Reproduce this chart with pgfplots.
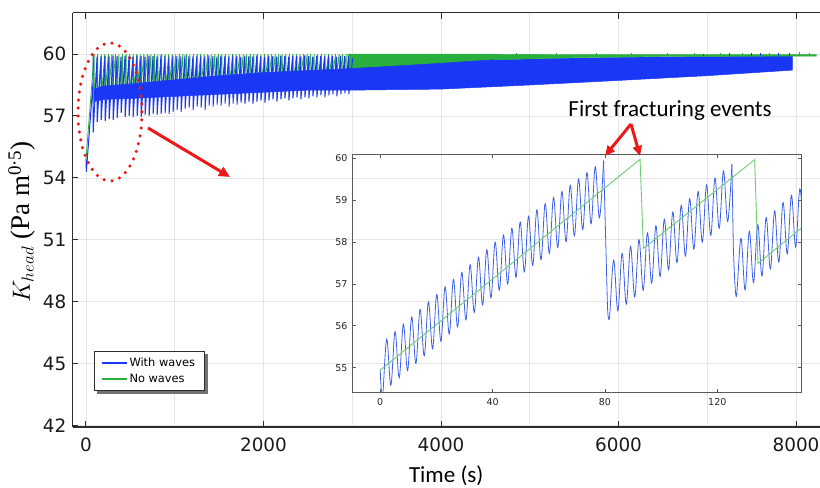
\documentclass[border=0pt]{standalone}
\usepackage{pgfplots}
\pgfplotsset{compat=1.18}
\usepackage{fontspec}
\setmainfont{Carlito}
\newfontfamily\dejavu{DejaVu Sans}
\newfontfamily\lserif{Liberation Serif}
\usetikzlibrary{arrows.meta}
\definecolor{cblue}{RGB}{25,55,245}
\definecolor{cgreen}{RGB}{40,175,60}
\definecolor{iblue}{RGB}{60,95,235}
\definecolor{igreen}{RGB}{110,205,110}
\definecolor{cred}{RGB}{235,25,25}
\definecolor{gridc}{RGB}{230,230,230}
\definecolor{axc}{RGB}{45,45,45}
\definecolor{iaxc}{RGB}{90,90,90}
\begin{document}
\begin{tikzpicture}
\useasboundingbox (0bp,0bp) rectangle (820bp,488bp);
\begin{axis}[
 at={(72.5bp,61bp)}, anchor=south west,
 scale only axis, width=747.5bp, height=414.3bp,
 xmin=-152, xmax=8270, ymin=41.94, ymax=62,
 axis x line=box, axis y line*=left,
 axis line style={axc, line width=1.2bp},
 tick align=inside, major tick length=6bp, minor tick length=0pt,
 tick style={axc, line width=1bp},
 xtick={0,2000,4000,6000,8000}, minor xtick={1000,3000,5000,7000},
 ytick={42,45,48,51,54,57,60},
 xmajorgrids=true, xminorgrids=true, ymajorgrids=true,
 grid style={gridc, line width=0.8bp},
 minor grid style={gridc, line width=0.8bp},
 scaled ticks=false,
 /pgf/number format/1000 sep={},
 /pgf/number format/assume math mode=true,
 ticklabel style={font=\dejavu\fontsize{18.4bp}{22bp}\selectfont, black!90, inner sep=0pt},
 xticklabel style={yshift=-11bp},
 yticklabel style={xshift=-6bp},
 xlabel={Time (s)},
 xlabel style={font=\fontsize{23bp}{27bp}\selectfont, at={(axis description cs:0.5,0)}, anchor=base, yshift=-55bp},
 unbounded coords=jump,
 legend style={name=leg, at={(0.0288,0.183)}, anchor=north west, draw=axc, fill=white,
   font=\dejavu\fontsize{11.4bp}{13bp}\selectfont, inner xsep=7bp, inner ysep=4.5bp, row sep=2bp,
   legend cell align=left},
 legend image code/.code={\draw[#1,line width=1.3bp] (0bp,0bp) -- (25bp,0bp);},
]
% ---- No waves (green) sawtooth, early part
\addplot[cgreen, line width=0.8bp, forget plot] coordinates {
(0,54.9)(92,60)(93,57.85)(132,60)(133,57.5)(172,60)(173,57.87)(212,60)(213,57.89)(252,60)(253,57.9)(292,60)(293,57.91)(332,60)(333,57.93)(372,60)(373,57.94)(412,60)(413,57.95)(452,60)(453,57.96)(492,60)(493,57.98)(532,60)(533,57.99)(572,60)(573,58)(612,60)(613,58.01)(652,60)(653,58.03)(692,60)(693,58.04)(732,60)(733,58.05)(772,60)(773,58.06)(812,60)(813,58.08)(852,60)(853,58.09)(892,60)(893,58.1)(932,60)(933,58.11)(972,60)(973,58.13)(1012,60)(1013,58.14)(1052,60)(1053,58.15)(1092,60)(1093,58.16)(1132,60)(1133,58.18)(1172,60)(1173,58.19)(1212,60)(1213,58.2)(1252,60)(1253,58.21)(1292,60)(1293,58.23)(1332,60)(1333,58.24)(1372,60)(1373,58.25)(1412,60)(1413,58.26)(1452,60)(1453,58.28)(1492,60)(1493,58.29)(1532,60)(1533,58.3)(1572,60)(1573,58.31)(1612,60)(1613,58.33)(1652,60)(1653,58.34)(1692,60)(1693,58.35)(1732,60)(1733,58.36)(1772,60)(1773,58.38)(1812,60)(1813,58.39)(1852,60)(1853,58.4)(1892,60)(1893,58.41)(1932,60)(1933,58.43)(1972,60)(1973,58.44)(2012,60)(2013,58.45)(2052,60)(2053,58.46)(2092,60)(2093,58.48)(2132,60)(2133,58.49)(2172,60)(2173,58.5)(2212,60)(2213,58.51)(2252,60)(2253,58.53)(2292,60)(2293,58.54)(2332,60)(2333,58.55)(2372,60)(2373,58.56)(2412,60)(2413,58.58)(2452,60)(2453,58.59)(2492,60)(2493,58.6)(2532,60)(2533,58.61)(2572,60)(2573,58.63)(2612,60)(2613,58.64)(2652,60)(2653,58.65)(2692,60)(2693,58.66)(2732,60)(2733,58.68)(2772,60)(2773,58.69)(2812,60)(2813,58.7)(2852,60)(2853,58.71)(2892,60)(2893,58.73)(2932,60)(2933,58.74)(2972,60)};
% ---- green dense band 2950-4600
\addplot[cgreen, fill=cgreen, line width=0.5bp, forget plot] coordinates {
(2950,60)(3500,60)(4000,60)(4600,59.99)(4600,59.4)(3500,59.1)(2950,58.9)} -- cycle;
% ---- With waves (blue) sawtooth
\addplot[cblue, line width=1bp, forget plot] coordinates {
(0,54.9)(4,54.3)(79,58.6)(80,59.95)(81.5,56.2)
(125,59.88)(126.5,56.7)(170,59.9)(171.5,56.8)(215,59.92)(216.5,56.75)(260,59.88)(261.5,56.85)(305,59.93)(306.5,56.8)(350,59.9)(351.5,56.9)(395,59.87)(396.5,57.15)(440,59.92)(441.5,56.95)(485,59.9)(486.5,57.0)(530,59.88)(531.5,56.95)(575,59.93)(576.5,57.0)(620,59.9)(621.5,56.95)(665,59.87)(666.5,57.05)(710,59.92)(711.5,57.0)(755,59.9)(756.5,57.1)(800,59.88)(801.5,57.05)(845,59.93)(846.5,57.1)(890,59.9)(891.5,57.15)(935,59.87)(936.5,57.1)(980,59.92)(981.5,57.2)(1025,59.9)(1026.5,57.3)(1070,59.88)(1071.5,57.2)(1115,59.93)(1116.5,57.35)(1160,59.9)(1161.5,57.4)(1205,59.87)(1206.5,57.3)(1250,59.92)(1251.5,57.45)(1295,59.9)(1296.5,57.4)(1340,59.88)(1341.5,57.3)(1385,59.93)(1386.5,57.5)(1430,59.9)(1431.5,57.45)(1475,59.87)(1476.5,57.55)(1520,59.92)(1521.5,57.5)(1565,59.9)(1566.5,57.6)(1610,59.88)(1611.5,57.45)(1655,59.93)(1656.5,57.6)(1700,59.9)(1701.5,57.55)(1745,59.87)(1746.5,57.65)(1790,59.92)(1791.5,57.6)(1835,59.9)(1836.5,57.7)(1880,59.88)(1881.5,57.6)(1925,59.93)(1926.5,57.7)(1970,59.9)(1971.5,57.75)(2015,59.87)(2016.5,57.65)(2060,59.92)(2061.5,57.75)(2105,59.9)(2106.5,57.8)(2150,59.88)(2151.5,57.7)(2195,59.93)(2196.5,57.8)(2240,59.9)(2241.5,57.85)(2285,59.87)(2286.5,57.75)(2330,59.92)(2331.5,57.85)(2375,59.9)(2376.5,57.9)(2420,59.88)(2421.5,57.8)(2465,59.93)(2466.5,57.9)(2510,59.9)(2511.5,57.85)(2555,59.87)(2556.5,57.95)(2600,59.92)(2601.5,57.9)(2645,59.9)(2646.5,58.0)(2690,59.88)(2691.5,57.9)(2735,59.93)(2736.5,58.0)(2780,59.9)(2781.5,58.05)(2825,59.87)(2826.5,57.95)(2870,59.92)(2871.5,58.05)(2915,59.9)(2916.5,58.1)(2960,59.88)(2961.5,58.05)(3005,59.8)};
% ---- blue dense band
\addplot[cblue, fill=cblue, line width=0.5bp, forget plot] coordinates {
(95,58.3)(200,58.45)(500,58.55)(1000,58.75)(1500,58.95)(2000,59.1)(2500,59.2)(3000,59.3)(3500,59.42)(4000,59.55)(4600,59.72)(5500,59.8)(6500,59.86)(7960,59.9)
(7960,59.22)(7000,58.95)(6000,58.72)(5000,58.5)(4000,58.3)(3000,58.25)(2500,58.25)(2000,58.15)(1500,58.05)(1000,57.95)(500,57.85)(200,57.8)(95,57.7)} -- cycle;
% ---- green late band
\addplot[cgreen, fill=cgreen, line width=0.4bp, forget plot] coordinates {
(4600,59.99)(5500,59.97)(6500,59.97)(8230,59.97)(8230,59.9)(6500,59.88)(5500,59.82)(4600,59.72)} -- cycle;
% ---- small spikes
\addplot[cgreen, line width=0.7bp, forget plot] coordinates {
(4850,59.95)(4850,60.05)(4850,nan)(5300,59.95)(5300,60.04)(5300,nan)(5750,59.95)(5750,60.05)(5750,nan)(6150,59.95)(6150,60.04)(6150,nan)(6550,59.95)(6550,60.05)(6550,nan)(6850,59.95)(6850,60.06)(6850,nan)(7150,59.95)(7150,60.05)(7150,nan)(7400,59.95)(7400,60.07)(7400,nan)(7700,59.95)(7700,60.06)(7700,nan)(8040,59.95)(8040,60.08)(8040,nan)(8150,59.95)(8150,60.07)};
\addplot[cblue, line width=0.7bp, forget plot] coordinates {
(6950,59.9)(6950,60.02)(6950,nan)(7250,59.9)(7250,60.03)(7250,nan)(7500,59.9)(7500,60.03)(7500,nan)(7600,59.9)(7600,60.04)(7600,nan)(7800,59.9)(7800,60.04)(7800,nan)(7930,59.9)(7930,60.05)};
\addlegendimage{cblue}
\addlegendentry{With waves}
\addlegendimage{cgreen}
\addlegendentry{No waves}
\end{axis}
% legend shadow
\fill[black!55] ([xshift=3bp,yshift=-3.5bp]leg.south west) rectangle ([xshift=3.5bp,yshift=-0.4bp]leg.south east);
\fill[black!55] ([xshift=0.4bp,yshift=-3bp]leg.north east) rectangle ([xshift=3.5bp,yshift=-3.5bp]leg.south east);
% ---------------- inset
\begin{axis}[
 at={(352.7bp,95.7bp)}, anchor=south west,
 scale only axis, width=448.3bp, height=238bp,
 xmin=-9.8, xmax=149.8, ymin=54.41, ymax=60.1,
 axis line style={iaxc, line width=0.9bp},
 tick align=inside, major tick length=3.5bp,
 tick style={iaxc, line width=0.8bp},
 xtick={0,40,80,120}, ytick={55,56,57,58,59,60},
 /pgf/number format/assume math mode=true,
 ticklabel style={font=\dejavu\fontsize{9.5bp}{11bp}\selectfont, black!85, inner sep=0pt},
 xticklabel style={yshift=-5.5bp},
 yticklabel style={xshift=-5bp},
]
\addplot[iblue, line width=0.8bp, smooth, tension=0.6] coordinates {
(0,54.94)(0.8,54.3)(2.3,55.68)(3.79,54.58)(5.27,55.86)(6.76,54.76)(8.24,56.04)(9.73,54.93)(11.21,56.21)(12.70,55.10)(14.18,56.39)(15.67,55.28)(17.15,56.57)(18.64,55.45)(20.12,56.75)(21.61,55.63)(23.09,56.93)(24.58,55.80)(26.06,57.11)(27.55,55.97)(29.03,57.28)(30.52,56.14)(32.0,57.46)(33.49,56.32)(34.97,57.64)(36.46,56.50)(37.94,57.82)(39.43,56.67)(40.91,58.00)(42.40,56.85)(43.88,58.17)(45.37,57.00)(46.85,58.33)(48.34,57.16)(49.82,58.48)(51.31,57.29)(52.79,58.62)(54.28,57.44)(55.76,58.77)(57.25,57.58)(58.73,58.92)(60.22,57.73)(61.70,59.07)(63.19,57.87)(64.67,59.21)(66.16,58.01)(67.64,59.36)(69.13,58.15)(70.61,59.51)(72.10,58.30)(73.58,59.66)(75.07,58.44)(76.55,59.80)(78.04,58.58)(79.52,59.95)};
\addplot[iblue, line width=0.8bp] coordinates {(79.52,59.95)(80.9,56.45)};
\addplot[iblue, line width=0.8bp, smooth, tension=0.6] coordinates {
(80.9,56.45)(81.6,56.19)(83.10,57.57)(84.60,56.36)(86.11,57.73)(87.61,56.52)(89.11,57.90)(90.61,56.69)(92.12,58.06)(93.62,56.85)(95.13,58.22)(96.63,57.02)(98.14,58.39)(99.64,57.18)(101.14,58.55)(102.64,57.34)(104.15,58.72)(105.65,57.51)(107.16,58.88)(108.66,57.67)(110.16,59.04)(111.66,57.83)(113.17,59.21)(114.67,58.00)(116.18,59.37)(117.68,58.16)(119.18,59.53)(120.68,58.33)(122.19,59.70)(123.69,58.49)(125.20,59.86)};
\addplot[iblue, line width=0.8bp] coordinates {(125.2,59.86)(125.7,57.9)};
\addplot[iblue, line width=0.8bp, smooth, tension=0.6] coordinates {
(125.7,57.9)(126.75,56.70)(128.4,58.09)(129.9,56.86)(131.4,58.26)(132.9,57.03)(134.4,58.42)(135.9,57.19)(137.4,58.59)(138.9,57.36)(140.4,58.75)(141.9,57.52)(143.4,58.95)(144.9,57.72)(146.4,59.12)(147.9,57.88)(149.4,59.27)(150.9,58.05)};
\addplot[igreen, line width=0.9bp] coordinates {
(0,54.94)(92.5,59.98)(93.7,57.85)(133.3,59.97)(134.5,57.49)(152,58.45)};
\end{axis}
% ---------------- annotations
\node[rotate=90, font=\lserif\fontsize{27bp}{31bp}\selectfont] at (22bp,266bp) {$K_{head}$ (Pa m\textsuperscript{0·5})};
\draw[cred, line width=3.5bp, line cap=round, dash pattern=on 0pt off 8bp] (110bp,376bp) ellipse [x radius=32bp, y radius=69bp];
\draw[cred, line width=3bp, -{Triangle[length=11bp,width=10bp]}] (148bp,360bp) -- (230bp,311bp);
\node[font=\fontsize{23bp}{27bp}\selectfont, anchor=base] at (670bp,371.3bp) {First fracturing events};
\draw[cred, line width=3bp, -{Triangle[length=10bp,width=9bp]}] (631bp,364bp) -- (605bp,332bp);
\draw[cred, line width=3bp, -{Triangle[length=10bp,width=9bp]}] (631bp,364bp) -- (640bp,332bp);
\end{tikzpicture}
\end{document}
